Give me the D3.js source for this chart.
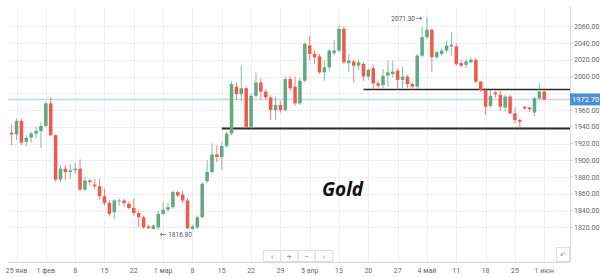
<!DOCTYPE html>
<html>
<head>
<meta charset="utf-8">
<script src="https://cdn.jsdelivr.net/npm/d3@7"></script>
<style>
    body { margin: 0; background: #fff; }
    svg { display: block; font-family: Roboto, "Liberation Sans", sans-serif; }
</style>
</head>
<body>
<div id="chart"></div>
<script>

// Daily candles, one per trading session (Sunday sessions included)
const opens = [1933,1931,1947,1922,1927,1932,1935,1941,1968,1930,
    1877,1890,1886,1888,1890,1865,1876,1871,1869,1857,
    1849,1838,1851,1852,1848,1843,1837,1832,1821,1818,
    1820,1836,1841,1844,1862,1859,1852,1818,1820,1832,
    1875,1886,1907,1904,1917,1932,1988,1979,1986,1940,
    1977,1993,1982,1975,1960,1966,1960,1997,1988,1968,
    1995,2037,2027,2024,2005,2011,2028,2031,2057,2016,
    2018,2013,2015,2000,2010,1992,1990,2001,2003,2007,
    1996,2000,1991,1988,2025,2047,2056,2023,2027,2031,
    2036,2036,2016,2014,2017,2020,1994,1984,1965,1981,
    1978,1963,1976,1956,1948,1964,1963,1957,1974,1982];
const highs = [1943,1950,1950,1930,1934,1940,1946,1970,1975,1931,
    1894,1894,1896,1897,1901,1880,1878,1878,1878,1866,
    1852,1854,1854,1854,1851,1854,1840,1834,1823,1823,
    1840,1850,1849,1864,1864,1864,1855,1823,1834,1874,
    1900,1920,1918,1922,1934,1994,1993,2013,1988,1980,
    2005,1998,1985,1978,1976,1971,2000,2001,2000,1999,
    2041,2049,2031,2027,2019,2033,2043,2061,2060,2027,
    2020,2020,2017,2010,2014,1995,2009,2019,2019,2010,
    2012,2002,1993,2027,2059,2071.3,2057,2031,2033,2043,
    2053,2039,2020,2021,2023,2022,1995,1986,1984,1983,
    1983,1978,1978,1963,1950,1965,1964,1976,1992,1983];
const lows = [1918,1924,1918,1916,1921,1926,1915,1939,1929,1874,
    1874,1876,1878,1884,1863,1863,1870,1866,1853,1846,
    1833,1830,1846,1845,1841,1834,1820,1818,1818,1817.5,
    1816.8,1834,1838,1842,1856,1849,1817.5,1817.5,1818,1831,
    1873,1884,1898,1888,1915,1930,1972,1970,1938,1938,
    1975,1973,1972,1948,1948,1957,1958,1983,1965,1966,
    1993,2019,2015,2003,1995,2007,2025,2029,2015,2005,
    1993,2008,1995,1996,1984,1985,1986,1988,1999,1984,
    1986,1986,1984,1985,2023,2045,2005,2021,2025,2029,
    2025,2013,2011,2010,2016,1992,1982,1954,1963,1975,
    1959,1958,1955,1944,1938,1960,1958,1952,1972,1971];
const closes = [1931,1947,1921,1927,1932,1935,1941,1968,1930,1877,
    1890,1886,1888,1890,1865,1876,1874,1869,1857,1849,
    1836,1852,1852,1849,1843,1837,1832,1820,1819,1822,
    1836,1841,1844,1862,1858,1852,1819,1821,1832,1872,
    1886,1907,1904,1917,1932,1991,1979,1986,1940,1977,
    1993,1982,1975,1960,1966,1960,1997,1986,1968,1995,
    2039,2027,2023,2005,2011,2031,2031,2057,2017,2019,
    2013,2017,2000,2008,1992,1989,2001,2005,2006,1996,
    2000,1991,1988,2025,2047,2056,2023,2029,2031,2037,
    2038,2015,2013,2018,2020,1994,1984,1964,1977,1979,
    1964,1976,1956,1948,1946,1962,1961,1974,1982,1972.7];

// Date labels along the bottom and the candle they sit under
const tickIdx = [1,7,13,19,25,31,37,43,49,55,61,67,73,79,85,91,97,103,109];
const tickLabels = ["25 янв","1 фев","8","15","22","1 мар","8","15","22","29",
    "5 апр","13","20","27","4 май","11","18","25","1 июн"];

const priceTicks = [1820,1840,1860,1880,1900,1920,1940,1960,1980,2000,2020,2040,2060];

const lastPrice = 1972.7;
const supportLevel = 1938;      // lower black line
const supportFrom = 43;
const resistLevel = 1984.4;     // upper black line
const resistFrom = 72;
const title = "Gold";

const W = 600, H = 277;
const plot = {left: 8, right: 570, top: 7, bottom: 262};
const upColor = "#5fa983", downColor = "#ef5a4c", gridColor = "#eceff3";

const n = opens.length;
const candles = d3.range(n).map(i => ({i: i, o: opens[i], h: highs[i], l: lows[i], c: closes[i]}));

const x = d3.scaleBand()
    .domain(d3.range(n))
    .range([9.2, 546.7])
    .paddingInner(0.28)
    .paddingOuter(0.14);
const cx = i => x(i) + x.bandwidth() / 2;

const y = d3.scaleLinear()
    .domain([1820, 2060])
    .range([227.3, 26.3]);

const svg = d3.select("#chart").append("svg")
    .attr("width", W)
    .attr("height", H);

// grid
svg.append("g").selectAll("line")
    .data(priceTicks)
    .join("line")
    .attr("x1", plot.left).attr("x2", plot.right)
    .attr("y1", d => Math.round(y(d)) + 0.5).attr("y2", d => Math.round(y(d)) + 0.5)
    .attr("stroke", gridColor);

svg.append("g").selectAll("line")
    .data(tickIdx)
    .join("line")
    .attr("x1", d => Math.round(cx(d)) + 0.5).attr("x2", d => Math.round(cx(d)) + 0.5)
    .attr("y1", plot.top).attr("y2", plot.bottom)
    .attr("stroke", gridColor);

// current price line
svg.append("line")
    .attr("x1", plot.left).attr("x2", plot.right)
    .attr("y1", y(lastPrice)).attr("y2", y(lastPrice))
    .attr("stroke", "#c3d6ec")
    .attr("stroke-width", 1.5);

// support / resistance lines
svg.append("line")
    .attr("x1", cx(supportFrom)).attr("x2", plot.right)
    .attr("y1", y(supportLevel)).attr("y2", y(supportLevel))
    .attr("stroke", "#2b2b2b")
    .attr("stroke-width", 2);

svg.append("line")
    .attr("x1", cx(resistFrom)).attr("x2", plot.right)
    .attr("y1", y(resistLevel)).attr("y2", y(resistLevel))
    .attr("stroke", "#2b2b2b")
    .attr("stroke-width", 1.5);

// candles
const cg = svg.append("g").attr("class", "candles");

cg.selectAll("line.wick")
    .data(candles)
    .join("line")
    .attr("class", "wick")
    .attr("x1", d => cx(d.i)).attr("x2", d => cx(d.i))
    .attr("y1", d => y(d.h)).attr("y2", d => y(d.l))
    .attr("stroke", d => d.c >= d.o ? upColor : downColor)
    .attr("stroke-width", 1)
    .attr("opacity", 0.75);

cg.selectAll("rect.body")
    .data(candles)
    .join("rect")
    .attr("class", "body")
    .attr("x", d => x(d.i))
    .attr("width", x.bandwidth())
    .attr("y", d => y(Math.max(d.o, d.c)))
    .attr("height", d => Math.max(1, Math.abs(y(d.o) - y(d.c))))
    .attr("fill", d => d.c >= d.o ? upColor : downColor);

// x axis
const xa = svg.append("g");
xa.append("line")
    .attr("x1", plot.left).attr("x2", plot.right)
    .attr("y1", plot.bottom + 0.5).attr("y2", plot.bottom + 0.5)
    .attr("stroke", "#d5d9de");
xa.selectAll("text")
    .data(tickIdx)
    .join("text")
    .attr("x", d => cx(d))
    .attr("y", 273)
    .attr("text-anchor", "middle")
    .attr("font-size", 7)
    .attr("fill", "#666")
    .text((d, i) => tickLabels[i]);

// y axis on the right; the label under the price badge stays hidden
const ya = svg.append("g");
ya.append("line")
    .attr("x1", plot.right + 0.5).attr("x2", plot.right + 0.5)
    .attr("y1", plot.top).attr("y2", plot.bottom)
    .attr("stroke", "#d5d9de");
ya.selectAll("line.tick")
    .data(priceTicks)
    .join("line")
    .attr("class", "tick")
    .attr("x1", plot.right).attr("x2", plot.right + 3)
    .attr("y1", d => y(d)).attr("y2", d => y(d))
    .attr("stroke", "#c9cdd2");
ya.selectAll("text")
    .data(priceTicks.filter(d => Math.abs(y(d) - y(lastPrice)) > 10))
    .join("text")
    .attr("x", plot.right + 4)
    .attr("y", d => y(d) + 2.5)
    .attr("font-size", 7)
    .attr("fill", "#666")
    .text(d => d3.format(".2f")(d));

// last price badge
svg.append("rect")
    .attr("x", plot.right)
    .attr("y", y(lastPrice) - 6)
    .attr("width", W - plot.right)
    .attr("height", 12)
    .attr("fill", "#4a8fd6");
svg.append("text")
    .attr("x", plot.right + 2)
    .attr("y", y(lastPrice) + 3)
    .attr("font-size", 7.5)
    .attr("fill", "#fff")
    .text(d3.format(".2f")(lastPrice));

// high / low markers
const hiIdx = d3.maxIndex(highs), loIdx = d3.minIndex(lows);
const hiY = y(highs[hiIdx]) + 1.5;
svg.append("text")
    .attr("x", cx(hiIdx) - 12)
    .attr("y", hiY + 2.5)
    .attr("text-anchor", "end")
    .attr("font-size", 6.5)
    .attr("fill", "#555")
    .text(d3.format(".2f")(highs[hiIdx]));
svg.append("path")
    .attr("d", `M${cx(hiIdx) - 11},${hiY} h6 m-2,-1.5 l2,1.5 l-2,1.5`)
    .attr("fill", "none")
    .attr("stroke", "#666")
    .attr("stroke-width", 0.8);

const loY = y(lows[loIdx]) + 4.5;
svg.append("path")
    .attr("d", `M${cx(loIdx) + 2},${loY} h6 M${cx(loIdx) + 4},${loY - 1.5} l-2,1.5 l2,1.5`)
    .attr("fill", "none")
    .attr("stroke", "#666")
    .attr("stroke-width", 0.8);
svg.append("text")
    .attr("x", cx(loIdx) + 10)
    .attr("y", loY + 2.5)
    .attr("font-size", 6.5)
    .attr("fill", "#555")
    .text(d3.format(".2f")(lows[loIdx]));

// title
svg.append("text")
    .attr("x", 322)
    .attr("y", 196)
    .attr("font-family", "'Open Sans', 'Liberation Sans', sans-serif")
    .attr("font-size", 19)
    .attr("font-weight", "bold")
    .attr("font-style", "italic")
    .attr("fill", "#111")
    .text(title);

// zoom / pan buttons
const nav = svg.append("g").attr("transform", "translate(263,250)");
const navGlyphs = ["‹", "+", "−", "›"];
nav.selectAll("rect")
    .data(navGlyphs)
    .join("rect")
    .attr("x", (d, i) => i * 17.25 + 0.5)
    .attr("y", 0.5)
    .attr("width", 17.25)
    .attr("height", 11)
    .attr("fill", "#fff")
    .attr("stroke", "#dcdfe3");
nav.selectAll("text")
    .data(navGlyphs)
    .join("text")
    .attr("x", (d, i) => i * 17.25 + 9)
    .attr("y", 9.5)
    .attr("text-anchor", "middle")
    .attr("font-size", 9)
    .attr("fill", "#9aa0a6")
    .text(d => d);

// reset button
svg.append("rect")
    .attr("x", 556.5).attr("y", 247.5)
    .attr("width", 13).attr("height", 14)
    .attr("fill", "#fff")
    .attr("stroke", "#dcdfe3");
svg.append("text")
    .attr("x", 563).attr("y", 258)
    .attr("text-anchor", "middle")
    .attr("font-family", "'DejaVu Sans', sans-serif")
    .attr("font-size", 8)
    .attr("fill", "#9aa0a6")
    .text("↶");

</script>
</body>
</html>
